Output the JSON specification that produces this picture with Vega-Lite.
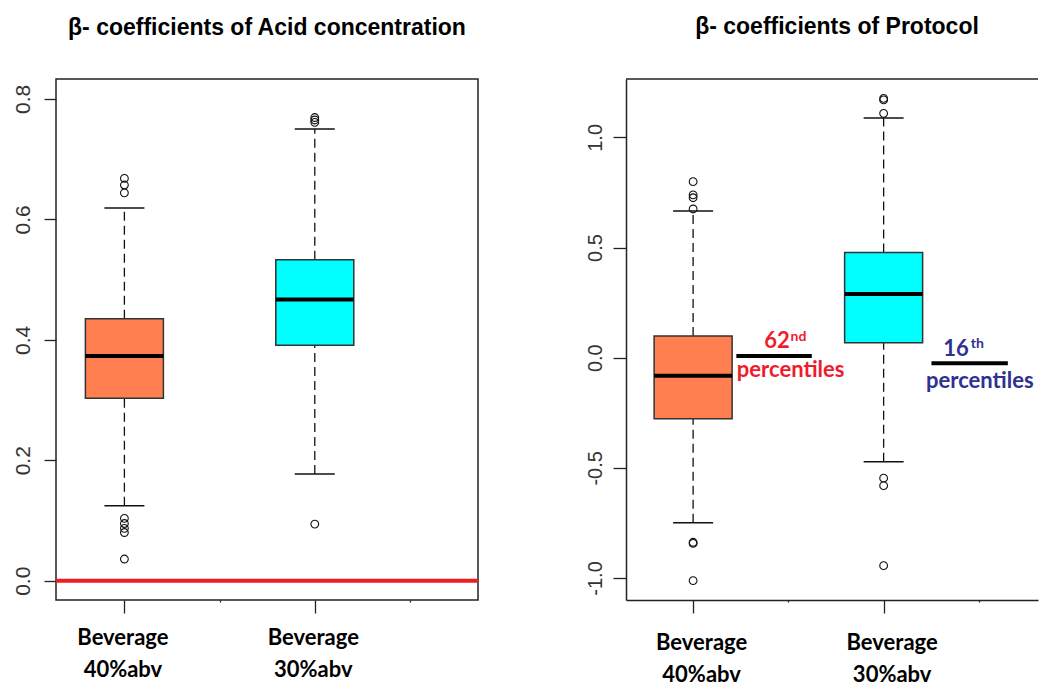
{
  "$schema": "https://vega.github.io/schema/vega-lite/v6.json",
  "background": "white",
  "padding": {"left": 11, "top": 16, "right": 0, "bottom": 0},
  "spacing": 103,
  "datasets": {
    "acidBoxes": [
      {"pos": 1, "grp": "40", "lo": 0.1245, "q1": 0.303, "med": 0.373, "q3": 0.435, "hi": 0.619},
      {"pos": 2, "grp": "30", "lo": 0.177, "q1": 0.391, "med": 0.467, "q3": 0.533, "hi": 0.75}
    ],
    "protBoxes": [
      {"pos": 1, "grp": "40", "lo": -0.749, "q1": -0.277, "med": -0.082, "q3": 0.0985, "hi": 0.666},
      {"pos": 2, "grp": "30", "lo": -0.473, "q1": 0.068, "med": 0.289, "q3": 0.477, "hi": 1.088}
    ],
    "acidOut": [
      {"pos": 1, "v": 0.668}, {"pos": 1, "v": 0.657}, {"pos": 1, "v": 0.644},
      {"pos": 1, "v": 0.1036}, {"pos": 1, "v": 0.095}, {"pos": 1, "v": 0.087},
      {"pos": 1, "v": 0.08}, {"pos": 1, "v": 0.036},
      {"pos": 2, "v": 0.769}, {"pos": 2, "v": 0.765}, {"pos": 2, "v": 0.761},
      {"pos": 2, "v": 0.094}
    ],
    "protOut": [
      {"pos": 1, "v": 0.799}, {"pos": 1, "v": 0.739}, {"pos": 1, "v": 0.726},
      {"pos": 1, "v": 0.675}, {"pos": 1, "v": -0.838}, {"pos": 1, "v": -0.843},
      {"pos": 1, "v": -1.012},
      {"pos": 2, "v": 1.177}, {"pos": 2, "v": 1.17}, {"pos": 2, "v": 1.109},
      {"pos": 2, "v": -0.547}, {"pos": 2, "v": -0.581}, {"pos": 2, "v": -0.944}
    ],
    "annolines": [
      {"who": "62", "x": 1.227, "x2": 1.623, "y": 0.008},
      {"who": "16", "x": 2.251, "x2": 2.652, "y": -0.025}
    ],
    "annobig": [
      {"who": "62", "label": "62", "x": 1.44, "y": 0.043},
      {"who": "16", "label": "16", "x": 2.38, "y": 0.008},
      {"who": "62", "label": "percentiles", "x": 1.512, "y": -0.089},
      {"who": "16", "label": "percentiles", "x": 2.505, "y": -0.139}
    ],
    "annosup": [
      {"who": "62", "label": "nd", "x": 1.553, "y": 0.077},
      {"who": "16", "label": "th", "x": 2.492, "y": 0.043}
    ],
    "zero": [{"y": 0}],
    "topline": [{"y": 1.265}]
  },
  "config": {
    "font": "Liberation Sans",
    "title": {"font": "Liberation Sans", "fontSize": 23, "fontWeight": "bold", "color": "#000", "baseline": "alphabetic", "offset": 39, "anchor": "middle"},
    "axis": {"grid": false, "title": null, "labelFont": "Liberation Sans", "labelColor": "#333", "tickColor": "#222", "domainColor": "#222", "labelOverlap": false, "labelFlush": false},
    "point": {"shape": "circle"}
  },
  "hconcat": [
    {
      "width": 422,
      "height": 521,
      "title": "β- coefficients of Acid concentration",
      "view": {"stroke": "#222", "strokeWidth": 1.5},
      "layer": [
        {
          "data": {"name": "acidBoxes"},
          "mark": {"type": "rule", "color": "#111", "strokeWidth": 1.3, "strokeDash": [9, 5]},
          "encoding": {
            "x": {"field": "pos", "type": "quantitative", "scale": {"domain": [0.667, 2.831], "nice": false, "zero": false},
              "axis": {"values": [1, 1.5, 2, 2.5], "domain": false, "tickSize": {"condition": {"test": "datum.value === 1 || datum.value === 2", "value": 13}, "value": 2}, "tickWidth": 1.3,
                "labelExpr": "datum.value === 1 ? ['Beverage', '40%abv'] : datum.value === 2 ? ['Beverage', '30%abv'] : ''",
                "labelFont": "Lato", "labelFontWeight": "bold", "labelFontSize": 22, "labelColor": "#000", "labelLineHeight": 32, "labelPadding": 14, "labelBaseline": "top", "labelOffset": -2}},
            "y": {"field": "lo", "type": "quantitative", "scale": {"domain": [-0.032, 0.833], "nice": false, "zero": false},
              "axis": {"values": [0, 0.2, 0.4, 0.6, 0.8], "domain": false, "labelExpr": "replace(format(datum.value, '.1f'), '−', '-')", "labelAngle": 270, "labelAlign": "center", "labelBaseline": "alphabetic", "labelPadding": 15, "tickSize": 12, "tickWidth": 1.3, "labelFontSize": 21}},
            "y2": {"field": "q1"}
          }
        },
        {
          "data": {"name": "acidBoxes"},
          "mark": {"type": "rule", "color": "#111", "strokeWidth": 1.3, "strokeDash": [9, 5]},
          "encoding": {
            "x": {"field": "pos", "type": "quantitative"},
            "y": {"field": "q3", "type": "quantitative"},
            "y2": {"field": "hi"}
          }
        },
        {
          "data": {"name": "acidBoxes"},
          "mark": {"type": "tick", "orient": "horizontal", "color": "#111", "size": 40, "thickness": 1.5, "opacity": 1},
          "encoding": {
            "x": {"field": "pos", "type": "quantitative"},
            "y": {"field": "lo", "type": "quantitative"}
          }
        },
        {
          "data": {"name": "acidBoxes"},
          "mark": {"type": "tick", "orient": "horizontal", "color": "#111", "size": 40, "thickness": 1.5, "opacity": 1},
          "encoding": {
            "x": {"field": "pos", "type": "quantitative"},
            "y": {"field": "hi", "type": "quantitative"}
          }
        },
        {
          "data": {"name": "acidBoxes"},
          "mark": {"type": "bar", "orient": "vertical", "size": 78, "stroke": "#333", "strokeWidth": 1.5},
          "encoding": {
            "x": {"field": "pos", "type": "quantitative"},
            "y": {"field": "q1", "type": "quantitative"},
            "y2": {"field": "q3"},
            "color": {"field": "grp", "type": "nominal", "scale": {"domain": ["40", "30"], "range": ["#FF7F50", "#00FFFF"]}, "legend": null}
          }
        },
        {
          "data": {"name": "acidBoxes"},
          "mark": {"type": "tick", "orient": "horizontal", "color": "#000", "size": 78, "thickness": 4, "opacity": 1},
          "encoding": {
            "x": {"field": "pos", "type": "quantitative"},
            "y": {"field": "med", "type": "quantitative"}
          }
        },
        {
          "data": {"name": "acidOut"},
          "mark": {"type": "point", "shape": "circle", "filled": false, "stroke": "#111", "strokeWidth": 1.1, "size": 60, "opacity": 1},
          "encoding": {
            "x": {"field": "pos", "type": "quantitative"},
            "y": {"field": "v", "type": "quantitative"}
          }
        },
        {
          "data": {"name": "zero"},
          "mark": {"type": "rule", "color": "#ED1C24", "strokeWidth": 4},
          "encoding": {
            "y": {"field": "y", "type": "quantitative"}
          }
        }
      ]
    },
    {
      "width": 412,
      "height": 521,
      "title": {"text": "β- coefficients of Protocol", "dx": 5},
      "view": {"stroke": null},
      "layer": [
        {
          "data": {"name": "protBoxes"},
          "mark": {"type": "rule", "color": "#111", "strokeWidth": 1.3, "strokeDash": [9, 5]},
          "encoding": {
            "x": {"field": "pos", "type": "quantitative", "scale": {"domain": [0.674, 2.784], "nice": false, "zero": false},
              "axis": {"values": [1, 1.5, 2, 2.5], "domain": true, "domainWidth": 1.5, "tickSize": {"condition": {"test": "datum.value === 1 || datum.value === 2", "value": 13}, "value": 2}, "tickWidth": 1.3,
                "labelExpr": "datum.value === 1 ? ['Beverage', '40%abv'] : datum.value === 2 ? ['Beverage', '30%abv'] : ''",
                "labelFont": "Lato", "labelFontWeight": "bold", "labelFontSize": 22, "labelColor": "#000", "labelLineHeight": 32, "labelPadding": 19, "labelBaseline": "top", "labelOffset": 8}},
            "y": {"field": "lo", "type": "quantitative", "scale": {"domain": [-1.1, 1.265], "nice": false, "zero": false},
              "axis": {"values": [-1, -0.5, 0, 0.5, 1], "domain": true, "domainWidth": 1.5, "labelExpr": "replace(format(datum.value, '.1f'), '−', '-')", "labelAngle": 270, "labelAlign": "center", "labelBaseline": "alphabetic", "labelPadding": 12, "tickSize": 13, "tickWidth": 1.3, "labelFontSize": 20}},
            "y2": {"field": "q1"}
          }
        },
        {
          "data": {"name": "protBoxes"},
          "mark": {"type": "rule", "color": "#111", "strokeWidth": 1.3, "strokeDash": [9, 5]},
          "encoding": {
            "x": {"field": "pos", "type": "quantitative"},
            "y": {"field": "q3", "type": "quantitative"},
            "y2": {"field": "hi"}
          }
        },
        {
          "data": {"name": "protBoxes"},
          "mark": {"type": "tick", "orient": "horizontal", "color": "#111", "size": 40, "thickness": 1.5, "opacity": 1},
          "encoding": {
            "x": {"field": "pos", "type": "quantitative"},
            "y": {"field": "lo", "type": "quantitative"}
          }
        },
        {
          "data": {"name": "protBoxes"},
          "mark": {"type": "tick", "orient": "horizontal", "color": "#111", "size": 40, "thickness": 1.5, "opacity": 1},
          "encoding": {
            "x": {"field": "pos", "type": "quantitative"},
            "y": {"field": "hi", "type": "quantitative"}
          }
        },
        {
          "data": {"name": "protBoxes"},
          "mark": {"type": "bar", "orient": "vertical", "size": 78, "stroke": "#333", "strokeWidth": 1.5},
          "encoding": {
            "x": {"field": "pos", "type": "quantitative"},
            "y": {"field": "q1", "type": "quantitative"},
            "y2": {"field": "q3"},
            "color": {"field": "grp", "type": "nominal", "scale": {"domain": ["40", "30"], "range": ["#FF7F50", "#00FFFF"]}, "legend": null}
          }
        },
        {
          "data": {"name": "protBoxes"},
          "mark": {"type": "tick", "orient": "horizontal", "color": "#000", "size": 78, "thickness": 4, "opacity": 1},
          "encoding": {
            "x": {"field": "pos", "type": "quantitative"},
            "y": {"field": "med", "type": "quantitative"}
          }
        },
        {
          "data": {"name": "protOut"},
          "mark": {"type": "point", "shape": "circle", "filled": false, "stroke": "#111", "strokeWidth": 1.1, "size": 60, "opacity": 1},
          "encoding": {
            "x": {"field": "pos", "type": "quantitative"},
            "y": {"field": "v", "type": "quantitative"}
          }
        },
        {
          "data": {"name": "topline"},
          "mark": {"type": "rule", "color": "#222", "strokeWidth": 1.5},
          "encoding": {
            "y": {"field": "y", "type": "quantitative"}
          }
        },
        {
          "data": {"name": "annolines"},
          "mark": {"type": "rule", "color": "#000", "strokeWidth": 4},
          "encoding": {
            "x": {"field": "x", "type": "quantitative"},
            "x2": {"field": "x2"},
            "y": {"field": "y", "type": "quantitative"}
          }
        },
        {
          "data": {"name": "annobig"},
          "transform": [{"filter": "datum.who === '62'"}],
          "mark": {"type": "text", "font": "Lato", "fontWeight": "bold", "fontSize": 22, "baseline": "alphabetic", "align": "center", "color": "#EE1C2E"},
          "encoding": {
            "x": {"field": "x", "type": "quantitative"},
            "y": {"field": "y", "type": "quantitative"},
            "text": {"field": "label"}
          }
        },
        {
          "data": {"name": "annosup"},
          "transform": [{"filter": "datum.who === '62'"}],
          "mark": {"type": "text", "font": "Lato", "fontWeight": "bold", "fontSize": 14, "baseline": "alphabetic", "align": "center", "color": "#EE1C2E"},
          "encoding": {
            "x": {"field": "x", "type": "quantitative"},
            "y": {"field": "y", "type": "quantitative"},
            "text": {"field": "label"}
          }
        },
        {
          "data": {"name": "annobig"},
          "transform": [{"filter": "datum.who === '16'"}],
          "mark": {"type": "text", "font": "Lato", "fontWeight": "bold", "fontSize": 22, "baseline": "alphabetic", "align": "center", "color": "#2E3192"},
          "encoding": {
            "x": {"field": "x", "type": "quantitative"},
            "y": {"field": "y", "type": "quantitative"},
            "text": {"field": "label"}
          }
        },
        {
          "data": {"name": "annosup"},
          "transform": [{"filter": "datum.who === '16'"}],
          "mark": {"type": "text", "font": "Lato", "fontWeight": "bold", "fontSize": 14, "baseline": "alphabetic", "align": "center", "color": "#2E3192"},
          "encoding": {
            "x": {"field": "x", "type": "quantitative"},
            "y": {"field": "y", "type": "quantitative"},
            "text": {"field": "label"}
          }
        }
      ]
    }
  ]
}
